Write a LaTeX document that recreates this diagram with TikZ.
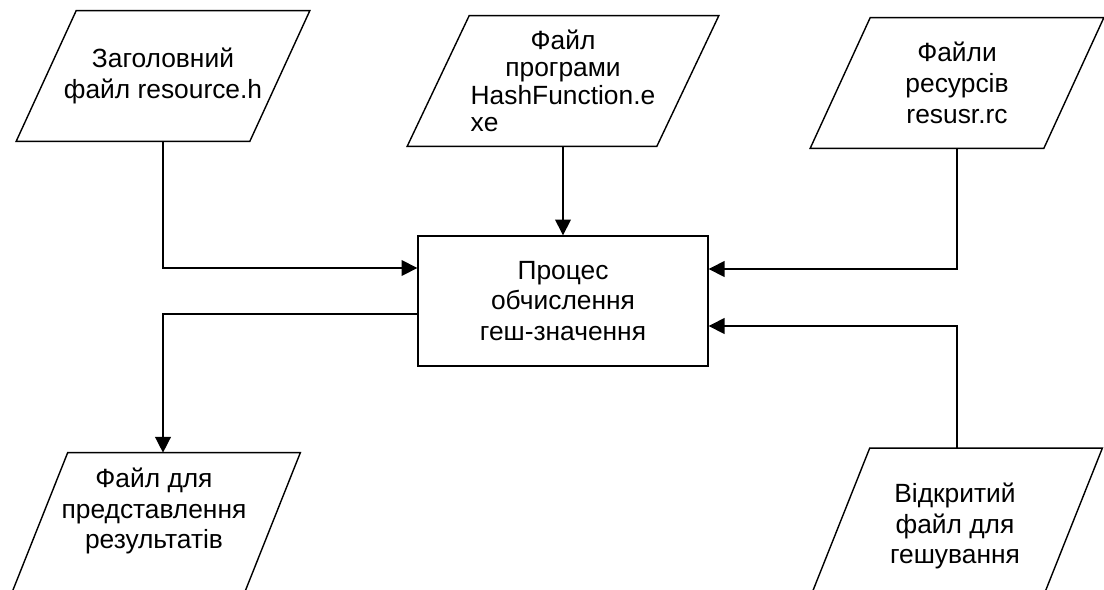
\documentclass[tikz,border=0pt]{standalone}
\usepackage{fontspec}
\setmainfont{Liberation Sans}
\usetikzlibrary{arrows.meta,calc}

\begin{document}
\begin{tikzpicture}[x=0.02cm, y=-0.02cm,
		txt/.style={align=center, font=\fontsize{15}{17.5}\selectfont},
		io/.style={rectangle, minimum width=4.66cm, minimum height=2.6cm, inner sep=0pt, txt,
			append after command={\pgfextra{\draw[line width=0.8pt]
				($(\tikzlastnode.north west)+(#1,0)$) -- ($(\tikzlastnode.north east)+(#1,0)$) --
				($(\tikzlastnode.south east)+(-#1,0)$) -- ($(\tikzlastnode.south west)+(-#1,0)$) -- cycle;}}},
		io/.default=30,
		proc/.style={draw, line width=0.8pt, rectangle, minimum width=5.8cm, minimum height=2.6cm, inner sep=0pt, txt},
		flow/.style={line width=0.8pt, -{Triangle[length=9pt, width=9pt]}}]
			\useasboundingbox (0,0) rectangle (1104,589);
			\clip (0,0) rectangle (1104,589);

			\node[io] (hdr) at (163,76) {Заголовний\\файл resource.h};
			\node[io=31, minimum width=4.98cm, font=\fontsize{15}{15.6}\selectfont] (exe) at (563,81)
				{Файл\\програми\\HashFunction.e\\\rlap{xe}\phantom{HashFunction.e}};
			\node[io] (rc) at (957,83) {Файли\\ресурсів\\resusr.rc};
			\node[proc] (calc) at (563,301) {Процес\\обчислення\\геш-значення};
			\node[io, minimum width=4.64cm, minimum height=3cm,
				label={[txt, yshift=0.34cm]center:Файл для\\представлення\\результатів}] (res) at (154,528) {};
			\node[io=31, minimum width=4.64cm, minimum height=3.1cm] (open) at (955,526) {Відкритий\\файл для\\гешування};

			\draw[flow] (hdr) |- ($(calc.west)+(0,-33)$);
			\draw[flow] (exe) -- (calc);
			\draw[flow] (rc) |- ($(calc.east)+(0,-32)$);
			\draw[flow] ($(calc.west)+(0,13)$) -| (hdr |- res.north);
			\draw[flow] (rc |- open.north) |- ($(calc.east)+(0,25)$);
		\end{tikzpicture}
\end{document}
